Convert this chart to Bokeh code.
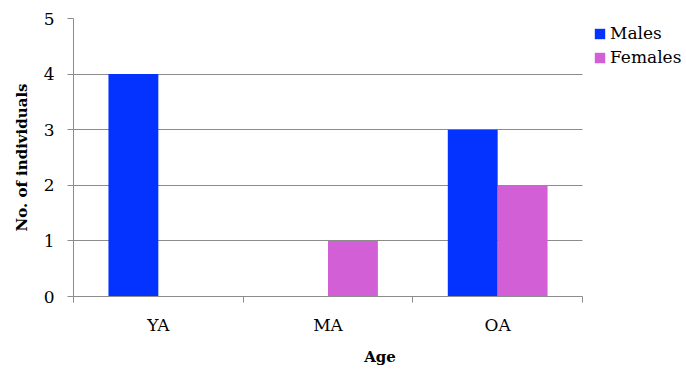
from bokeh.plotting import figure
from bokeh.models import ColumnDataSource, FixedTicker, Range1d, Legend, LegendItem
from bokeh.transform import dodge
from bokeh.embed import file_html
from bokeh.resources import INLINE

categories = ["YA", "MA", "OA"]
males = [4, 0, 3]
females = [0, 1, 2]
y_ticks = [0, 1, 2, 3, 4, 5]

n = len(categories)
xpos = [i + 0.5 for i in range(n)]
src = ColumnDataSource(dict(x=xpos, males=males, females=females))

FONT = "DejaVu Serif"
GRID = "#8c8c8c"

W, H = 686, 371
LEFT, AXIS_RIGHT, TOP, BOTTOM = 73, 582, 18, 296
# frame spans to the right edge so the legend sits inside it
x_end = n * (W - LEFT) / (AXIS_RIGHT - LEFT)

p = figure(width=W, height=H, output_backend="svg", toolbar_location=None,
           x_range=Range1d(0, x_end), y_range=Range1d(0, 5),
           min_border_left=LEFT, min_border_right=0, min_border_top=TOP,
           min_border_bottom=H - BOTTOM)
p.outline_line_color = None

bw = 0.294
rm = p.vbar(x=dodge("x", -bw / 2), top="males", width=bw, source=src,
            fill_color="#0433FF", line_color=None)
rf = p.vbar(x=dodge("x", bw / 2), top="females", width=bw, source=src,
            fill_color="#D25FD6", line_color=None)

# x axis: labels at category centres, ticks at boundaries
p.xaxis.bounds = (0, n)
p.xaxis.ticker = FixedTicker(ticks=xpos, minor_ticks=list(range(n + 1)))
p.xaxis.major_label_overrides = {x: c for x, c in zip(xpos, categories)}
p.xaxis.major_tick_line_color = None
p.xaxis.minor_tick_line_color = GRID
p.xaxis.minor_tick_out = 6
p.xaxis.minor_tick_in = 0
p.xaxis.axis_line_color = GRID
p.xaxis.axis_label = "Age"
p.xaxis.major_label_standoff = 12
p.xaxis.axis_label_standoff = 10

p.yaxis.ticker = FixedTicker(ticks=y_ticks, minor_ticks=[])
p.yaxis.major_tick_line_color = GRID
p.yaxis.major_tick_out = 6
p.yaxis.major_tick_in = 0
p.yaxis.axis_line_color = GRID
p.yaxis.axis_label = "No. of individuals"
p.yaxis.major_label_standoff = 13
p.yaxis.axis_label_standoff = 10

for ax in (p.xaxis, p.yaxis):
    ax.major_label_text_font = FONT
    ax.major_label_text_font_size = "17px"
    ax.major_label_text_color = "black"
    ax.axis_label_text_font = FONT
    ax.axis_label_text_font_size = "15px"
    ax.axis_label_text_font_style = "bold"
    ax.axis_label_text_color = "black"

p.xgrid.visible = False
p.ygrid.ticker = FixedTicker(ticks=y_ticks)
p.ygrid.cross_bounds = (0, n)
p.ygrid.grid_line_color = GRID
p.ygrid.grid_line_width = 1

legend = Legend(items=[LegendItem(label="Males", renderers=[rm]),
                       LegendItem(label="Females", renderers=[rf])],
                location=(520, 229))
legend.label_text_font = FONT
legend.label_text_font_size = "17px"
legend.label_text_color = "black"
legend.glyph_width = 13
legend.glyph_height = 13
legend.label_standoff = 4
legend.spacing = 4
legend.label_height = 20
legend.padding = 0
legend.margin = 0
legend.border_line_color = None
legend.background_fill_alpha = 0
p.add_layout(legend)

open("out.html", "w").write(file_html(p, INLINE))
